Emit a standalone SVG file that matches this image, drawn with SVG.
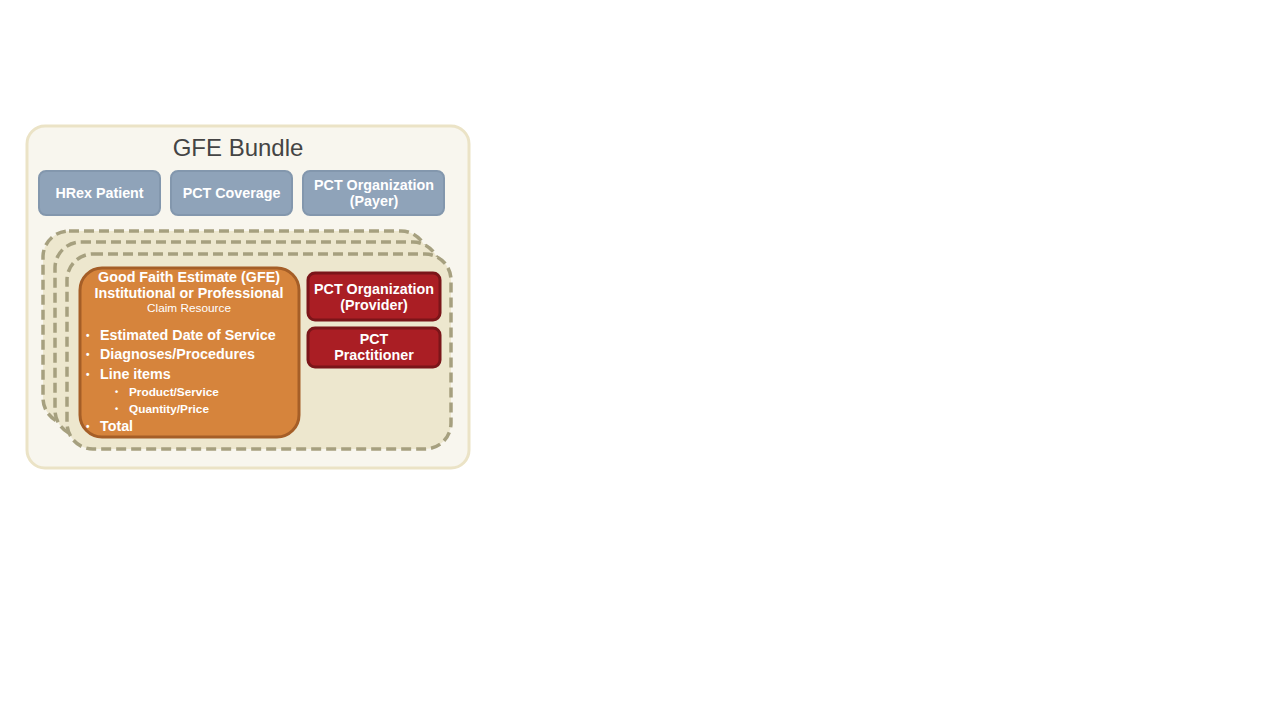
<svg xmlns="http://www.w3.org/2000/svg" width="1280" height="720" viewBox="0 0 1280 720">
<style>
.t{font-family:"Liberation Sans",Arial,sans-serif;fill:#fff;font-weight:bold;font-size:14.3px}
.c{text-anchor:middle}
.blue{fill:#8FA3B9;stroke:#8397AD;stroke-width:2}
.red{fill:#AA1E24;stroke:#7B1519;stroke-width:3}
.dash{fill:#EDE7CE;stroke:#A6A07F;stroke-width:3.5;stroke-dasharray:10 5}
.sm{font-size:11.8px}
</style>
<rect width="1280" height="720" fill="#fff"/>
<g id="gfe-bundle">
<rect x="27" y="126" width="442" height="342" rx="18" fill="#F8F6EE" stroke="#EBE3C6" stroke-width="3"/>
<text x="238" y="156" class="c" style="font-family:'Liberation Sans',Arial,sans-serif;font-size:24px;fill:#444">GFE Bundle</text>
</g>
<g id="hrex-patient">
<rect class="blue" x="39" y="171" width="121" height="44" rx="7"/>
<text class="t c" x="99.5" y="198">HRex Patient</text>
</g>
<g id="pct-coverage">
<rect class="blue" x="171" y="171" width="121" height="44" rx="7"/>
<text class="t c" x="231.5" y="198">PCT Coverage</text>
</g>
<g id="pct-org-payer">
<rect class="blue" x="303" y="171" width="141" height="44" rx="7"/>
<text class="t c" x="374" y="190">PCT Organization</text>
<text class="t c" x="374" y="206">(Payer)</text>
</g>
<g id="stack">
<rect class="dash" x="43" y="231" width="384" height="193" rx="26"/>
<rect class="dash" x="55" y="242" width="384" height="194" rx="26"/>
<rect class="dash" x="67" y="254" width="384" height="195" rx="26"/>
</g>
<g id="gfe-claim">
<rect x="80" y="268" width="219" height="169" rx="22" fill="#D6843C" stroke="#A55E27" stroke-width="3"/>
<text class="t c" x="189" y="282">Good Faith Estimate (GFE)</text>
<text class="t c" x="189" y="298">Institutional or Professional</text>
<text class="t c" x="189" y="312" style="font-size:11.8px;font-weight:normal">Claim Resource</text>
<text class="t" x="86" y="339" style="font-size:10px">•</text>
<text class="t" x="100" y="340">Estimated Date of Service</text>
<text class="t" x="86" y="358" style="font-size:10px">•</text>
<text class="t" x="100" y="359">Diagnoses/Procedures</text>
<text class="t" x="86" y="378" style="font-size:10px">•</text>
<text class="t" x="100" y="379">Line items</text>
<text class="t" x="115" y="395" style="font-size:9px">•</text>
<text class="t sm" x="129" y="396">Product/Service</text>
<text class="t" x="115" y="412" style="font-size:9px">•</text>
<text class="t sm" x="129" y="413">Quantity/Price</text>
<text class="t" x="86" y="430" style="font-size:10px">•</text>
<text class="t" x="100" y="431">Total</text>
</g>
<g id="pct-org-provider">
<rect class="red" x="308" y="273" width="132" height="47" rx="7"/>
<text class="t c" x="374" y="294">PCT Organization</text>
<text class="t c" x="374" y="310">(Provider)</text>
</g>
<g id="pct-practitioner">
<rect class="red" x="308" y="328" width="132" height="39" rx="7"/>
<text class="t c" x="374" y="344">PCT</text>
<text class="t c" x="374" y="360">Practitioner</text>
</g>
<g id="connectors"></g>
</svg>
